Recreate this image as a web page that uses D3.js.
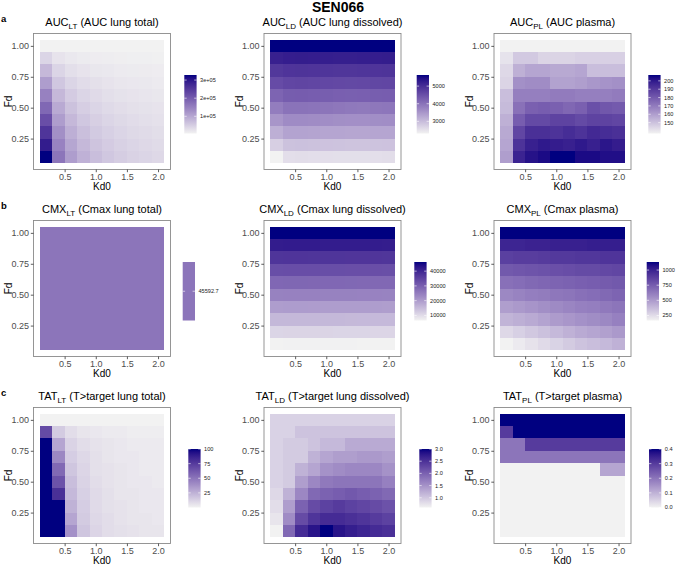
<!DOCTYPE html>
<html><head><meta charset="utf-8">
<script src="https://cdn.jsdelivr.net/npm/d3@7"></script>
<style>
html,body{margin:0;padding:0;background:#fff;}
svg{display:block;font-family:"Liberation Sans",Arial,Helvetica,sans-serif;}
</style></head>
<body>
<svg id="chart" width="676" height="567"></svg>
<script>
// ---------------- data ----------------
const kd0 = [0.2,0.4,0.6,0.8,1.0,1.2,1.4,1.6,1.8,2.0];
const fd  = [0.1,0.2,0.3,0.4,0.5,0.6,0.7,0.8,0.9,1.0];
const xTicks = [0.5,1.0,1.5,2.0];
const yTicks = [0.25,0.50,0.75,1.00];

// rows follow fd (0.1 -> 1.0), columns follow kd0 (0.2 -> 2.0)
const aucLT = [
 [328000,166000,113000,86000,70000,59000,51000,45000,41000,37000],
 [292000,148000,101000,77000,62000,53000,46000,41000,37000,33000],
 [256000,131000,89000,68000,55000,47000,41000,36000,33000,30000],
 [220000,113000,77000,59000,48000,41000,36000,32000,29000,26000],
 [184000,95000,65000,50000,41000,35000,31000,27000,25000,23000],
 [149000,77000,53000,41000,34000,29000,25000,23000,21000,19000],
 [113000,59000,41000,32000,27000,23000,20000,18000,17000,15000],
 [77000,41000,29000,23000,19000,17000,15000,14000,13000,12000],
 [41000,23000,17000,14000,12000,11000,10000,9000,9000,8000],
 [5000,5000,5000,5000,5000,5000,5000,5000,5000,5000]
];
const aucLD = [
 [2310,2560,2570,2560,2560,2550,2550,2550,2560,2570],
 [2750,2930,2940,2930,2920,2910,2900,2900,2910,2920],
 [3180,3330,3330,3320,3310,3300,3290,3290,3300,3310],
 [3520,3660,3660,3640,3630,3610,3600,3600,3620,3630],
 [3850,3990,3990,3980,3960,3940,3910,3900,3930,3950],
 [4200,4310,4320,4300,4290,4270,4260,4270,4290,4300],
 [4560,4640,4650,4640,4620,4610,4600,4610,4630,4640],
 [4850,4900,4910,4900,4890,4880,4880,4890,4900,4910],
 [5200,5240,5250,5240,5230,5220,5220,5230,5240,5250],
 [5630,5630,5630,5630,5630,5630,5630,5630,5630,5630]
];
const aucPL = [
 [160,197,202,204,207,207,204,204,203,203],
 [158,192,198,200,199,198,200,198,201,199],
 [157,186,193,193,192,194,192,195,194,193],
 [155,179,185,185,187,187,185,187,187,186],
 [152,173,178,179,178,176,178,183,181,180],
 [151,169,169,169,170,170,169,169,169,170],
 [145,164,165,165,159,159,160,162,163,164],
 [144,155,158,158,157,157,158,151,151,151],
 [141,148,148,145,145,145,146,146,146,146],
 [137,137,137,137,137,137,137,137,137,137]
];
const cmxLT = [
 [45592.7,45592.7,45592.7,45592.7,45592.7,45592.7,45592.7,45592.7,45592.7,45592.7],
 [45592.7,45592.7,45592.7,45592.7,45592.7,45592.7,45592.7,45592.7,45592.7,45592.7],
 [45592.7,45592.7,45592.7,45592.7,45592.7,45592.7,45592.7,45592.7,45592.7,45592.7],
 [45592.7,45592.7,45592.7,45592.7,45592.7,45592.7,45592.7,45592.7,45592.7,45592.7],
 [45592.7,45592.7,45592.7,45592.7,45592.7,45592.7,45592.7,45592.7,45592.7,45592.7],
 [45592.7,45592.7,45592.7,45592.7,45592.7,45592.7,45592.7,45592.7,45592.7,45592.7],
 [45592.7,45592.7,45592.7,45592.7,45592.7,45592.7,45592.7,45592.7,45592.7,45592.7],
 [45592.7,45592.7,45592.7,45592.7,45592.7,45592.7,45592.7,45592.7,45592.7,45592.7],
 [45592.7,45592.7,45592.7,45592.7,45592.7,45592.7,45592.7,45592.7,45592.7,45592.7],
 [45592.7,45592.7,45592.7,45592.7,45592.7,45592.7,45592.7,45592.7,45592.7,45592.7]
];
const cmxLD = [
 [6600,6650,6700,6700,6700,6650,6650,6600,6600,6550],
 [11000,11100,11100,11100,11050,11000,11000,10950,10900,10900],
 [15400,15500,15500,15450,15400,15400,15350,15300,15300,15250],
 [19800,19900,19900,19850,19800,19800,19750,19700,19700,19650],
 [24200,24300,24300,24250,24200,24200,24150,24100,24100,24050],
 [28600,28700,28700,28650,28600,28600,28550,28500,28500,28450],
 [33000,33100,33100,33050,33000,33000,32950,32900,32900,32850],
 [37400,37500,37500,37450,37400,37400,37350,37300,37300,37250],
 [41800,41900,41900,41850,41800,41800,41750,41700,41700,41650],
 [46200,46200,46200,46200,46200,46200,46200,46200,46200,46200]
];
const cmxPL = [
 [167,196,225,254,283,312,341,360,380,409],
 [264,293,322,351,380,409,437,457,476,505],
 [399,418,437,466,495,515,534,553,573,602],
 [486,505,524,544,563,582,602,611,631,650],
 [573,592,611,621,640,650,669,679,698,718],
 [669,679,698,708,718,727,737,747,756,766],
 [766,776,785,795,805,814,824,824,834,843],
 [872,882,882,892,901,901,911,911,920,920],
 [988,988,998,998,1007,1007,1007,1017,1017,1017],
 [1133,1133,1133,1133,1133,1133,1133,1133,1133,1133]
];
const tatLT = [
 [100,100,38,17,11,8,7,6,5,5],
 [100,100,30,15,10,8,6,5,5,4],
 [100,100,25,14,9,7,6,5,4,4],
 [100,80,22,13,9,7,5,5,4,4],
 [100,65,20,12,8,6,5,4,4,3],
 [100,55,17,11,7,6,5,4,3,3],
 [100,42,14,10,7,5,4,4,3,3],
 [100,30,12,8,6,5,4,3,3,3],
 [68,15,8,5,4,3,3,2,2,2],
 [0,0,0,0,0,0,0,0,0,0]
];
const tatLD = [
 [0.60,1.92,2.57,2.81,3.00,2.81,2.71,2.64,2.57,2.52],
 [0.72,1.56,2.23,2.47,2.57,2.57,2.52,2.47,2.40,2.33],
 [0.79,1.39,1.99,2.23,2.33,2.40,2.33,2.28,2.23,2.16],
 [0.84,1.20,1.61,1.92,1.99,2.04,2.09,2.04,1.99,1.92],
 [0.89,0.96,1.39,1.61,1.75,1.80,1.80,1.80,1.80,1.68],
 [0.89,0.96,1.20,1.32,1.51,1.56,1.61,1.61,1.61,1.51],
 [0.89,0.96,0.96,1.20,1.32,1.39,1.39,1.44,1.44,1.39],
 [0.89,0.96,0.96,1.03,1.13,1.13,1.27,1.27,1.27,1.27],
 [0.89,0.89,1.03,1.03,1.03,1.03,1.03,1.03,1.03,1.03],
 [0.89,0.89,0.89,0.89,0.89,0.89,0.89,0.89,0.89,0.89]
];
const tatPL = [
 [0,0,0,0,0,0,0,0,0,0],
 [0,0,0,0,0,0,0,0,0,0],
 [0,0,0,0,0,0,0,0,0,0],
 [0,0,0,0,0,0,0,0,0,0],
 [0,0,0,0,0,0,0,0,0,0],
 [0,0,0,0,0,0,0,0,0.12,0.12],
 [0.2,0.2,0.2,0.2,0.2,0.2,0.2,0.2,0.2,0.2],
 [0.2,0.2,0.3,0.3,0.3,0.3,0.3,0.3,0.3,0.3],
 [0.3,0.4,0.4,0.4,0.4,0.4,0.4,0.4,0.4,0.4],
 [0.4,0.4,0.4,0.4,0.4,0.4,0.4,0.4,0.4,0.4]
];

const aucLTBreaks = [100000,200000,300000];
const aucLTLabels = ["1e+05","2e+05","3e+05"];
const aucLDBreaks = [3000,4000,5000];
const aucPLBreaks = [150,160,170,180,190,200];
const cmxLTBreaks = [45592.7];
const cmxLTLabels = ["45592.7"];
const cmxLDBreaks = [10000,20000,30000,40000];
const cmxPLBreaks = [250,500,750,1000];
const tatLTBreaks = [25,50,75,100];
const tatLDBreaks = [1.0,1.5,2.0,2.5,3.0];
const tatLDLabels = ["1.0","1.5","2.0","2.5","3.0"];
const tatPLBreaks = [0.0,0.1,0.2,0.3,0.4];
const tatPLLabels = ["0.0","0.1","0.2","0.3","0.4"];

const mainTitle = "SEN066";
const rowTags = ["a","b","c"];

// ---------------- layout ----------------
const colL = [33.5, 264, 494];
const panelW = 137;
const rowT = [33.5, 220.5, 407.5];
const panelH = 136;
const legendX = [[184.3,416.7,648.3],[182.7,414.3,646.7],[188.3,419.3,649]];
const LOW = "#F2F2F2", HIGH = "#000080";

const panels = [
 {r:0,c:0,m:"AUC",s:"LT",d:" (AUC lung total)",v:aucLT,b:aucLTBreaks,l:aucLTLabels},
 {r:0,c:1,m:"AUC",s:"LD",d:" (AUC lung dissolved)",v:aucLD,b:aucLDBreaks},
 {r:0,c:2,m:"AUC",s:"PL",d:" (AUC plasma)",v:aucPL,b:aucPLBreaks},
 {r:1,c:0,m:"CMX",s:"LT",d:" (Cmax lung total)",v:cmxLT,b:cmxLTBreaks,l:cmxLTLabels},
 {r:1,c:1,m:"CMX",s:"LD",d:" (Cmax lung dissolved)",v:cmxLD,b:cmxLDBreaks},
 {r:1,c:2,m:"CMX",s:"PL",d:" (Cmax plasma)",v:cmxPL,b:cmxPLBreaks},
 {r:2,c:0,m:"TAT",s:"LT",d:" (T>target lung total)",v:tatLT,b:tatLTBreaks},
 {r:2,c:1,m:"TAT",s:"LD",d:" (T>target lung dissolved)",v:tatLD,b:tatLDBreaks,l:tatLDLabels},
 {r:2,c:2,m:"TAT",s:"PL",d:" (T>target plasma)",v:tatPL,b:tatPLBreaks,l:tatPLLabels}
];

const svg = d3.select("#chart");
const defs = svg.append("defs");

svg.append("text").attr("x",338).attr("y",12).attr("text-anchor","middle")
  .attr("font-size","14px").attr("font-weight","bold").attr("fill","#000").text(mainTitle);

rowTags.forEach((t,i)=>{
  svg.append("text").attr("x",1).attr("y",rowT[i]-11.5).attr("font-size","9.5px")
    .attr("font-weight","bold").attr("fill","#000").text(t);
});

panels.forEach((p,pi)=>{
  const left = colL[p.c], top = rowT[p.r];
  const x = d3.scaleLinear().domain([0,2.2]).range([left,left+panelW]);
  const y = d3.scaleLinear().domain([0,1.1]).range([top+panelH,top]);
  const flat = [];
  p.v.forEach((row,i)=>row.forEach((val,j)=>flat.push({fd:fd[i],kd:kd0[j],v:val})));
  const ext = d3.extent(flat,d=>d.v);
  const color = d3.scaleLinear().domain(ext).range([LOW,HIGH]).interpolate(d3.interpolateLab);
  const g = svg.append("g");

  g.append("g").attr("shape-rendering","crispEdges").selectAll("rect").data(flat).join("rect")
    .attr("x",d=>x(d.kd-0.1)).attr("y",d=>y(d.fd+0.05))
    .attr("width",d=>x(d.kd+0.1)-x(d.kd-0.1)).attr("height",d=>y(d.fd-0.05)-y(d.fd+0.05))
    .attr("fill",d=>color(d.v));

  g.append("rect").attr("x",left).attr("y",top).attr("width",panelW).attr("height",panelH)
    .attr("fill","none").attr("stroke","#8a8a8a").attr("stroke-width",0.9);

  const xa = g.append("g").attr("transform",`translate(0,${top+panelH})`)
    .call(d3.axisBottom(x).tickValues(xTicks).tickFormat(d3.format(".1f")).tickSize(2.7).tickPadding(1));
  const ya = g.append("g").attr("transform",`translate(${left},0)`)
    .call(d3.axisLeft(y).tickValues(yTicks).tickFormat(d3.format(".2f")).tickSize(2.7).tickPadding(1.8));
  [xa,ya].forEach(a=>{
    a.select(".domain").remove();
    a.selectAll("line").attr("stroke","#333").attr("stroke-width",0.8);
    a.selectAll("text").attr("fill","#4d4d4d").attr("font-size","9px")
      .attr("font-family","'Liberation Sans',Arial,sans-serif");
  });

  g.append("text").attr("x",left+panelW/2).attr("y",top+panelH+20.5).attr("text-anchor","middle")
    .attr("font-size","10px").attr("fill","#000").text("Kd0");
  const fx = left-25;
  g.append("text").attr("transform",`translate(${fx},${top+panelH/2}) rotate(-90)`)
    .attr("text-anchor","middle").attr("dy","0.35em").attr("font-size","10px").attr("fill","#000").text("Fd");

  const tt = g.append("text").attr("x",left+panelW/2).attr("y",top-7.5).attr("text-anchor","middle")
    .attr("font-size","11px").attr("fill","#000");
  tt.append("tspan").text(p.m);
  tt.append("tspan").attr("font-size","8px").attr("dy",2.5).text(p.s);
  tt.append("tspan").attr("dy",-2.5).text(p.d);

  // legend colourbar
  const lx = legendX[p.r][p.c], lw = 12.3, lt = rowT[p.r]+41.5, lh = 58.5;
  const gid = "grad"+pi;
  const grad = defs.append("linearGradient").attr("id",gid).attr("x1",0).attr("y1",1).attr("x2",0).attr("y2",0);
  d3.range(0,1.0001,0.05).forEach(t=>{
    grad.append("stop").attr("offset",t).attr("stop-color",color(ext[0]+(ext[1]-ext[0])*t));
  });
  g.append("rect").attr("x",lx).attr("y",lt).attr("width",lw).attr("height",lh)
    .attr("fill", ext[0]===ext[1] ? color(ext[0]) : `url(#${gid})`);
  const ly = d3.scaleLinear().domain(ext).range([lt+lh,lt]);
  const labels = p.l || p.b.map(v=>String(v));
  p.b.forEach((bv,i)=>{
    const yy = ext[0]===ext[1] ? lt+lh/2 : ly(bv);
    g.append("line").attr("x1",lx).attr("x2",lx+2.4).attr("y1",yy).attr("y2",yy).attr("stroke","#fff").attr("stroke-width",0.6);
    g.append("line").attr("x1",lx+lw-2.4).attr("x2",lx+lw).attr("y1",yy).attr("y2",yy).attr("stroke","#fff").attr("stroke-width",0.6);
    g.append("text").attr("x",lx+lw+3.5).attr("y",yy).attr("dy","0.35em")
      .attr("font-size","5.6px").attr("fill","#1a1a1a").text(labels[i]);
  });
});
</script>
</body></html>
